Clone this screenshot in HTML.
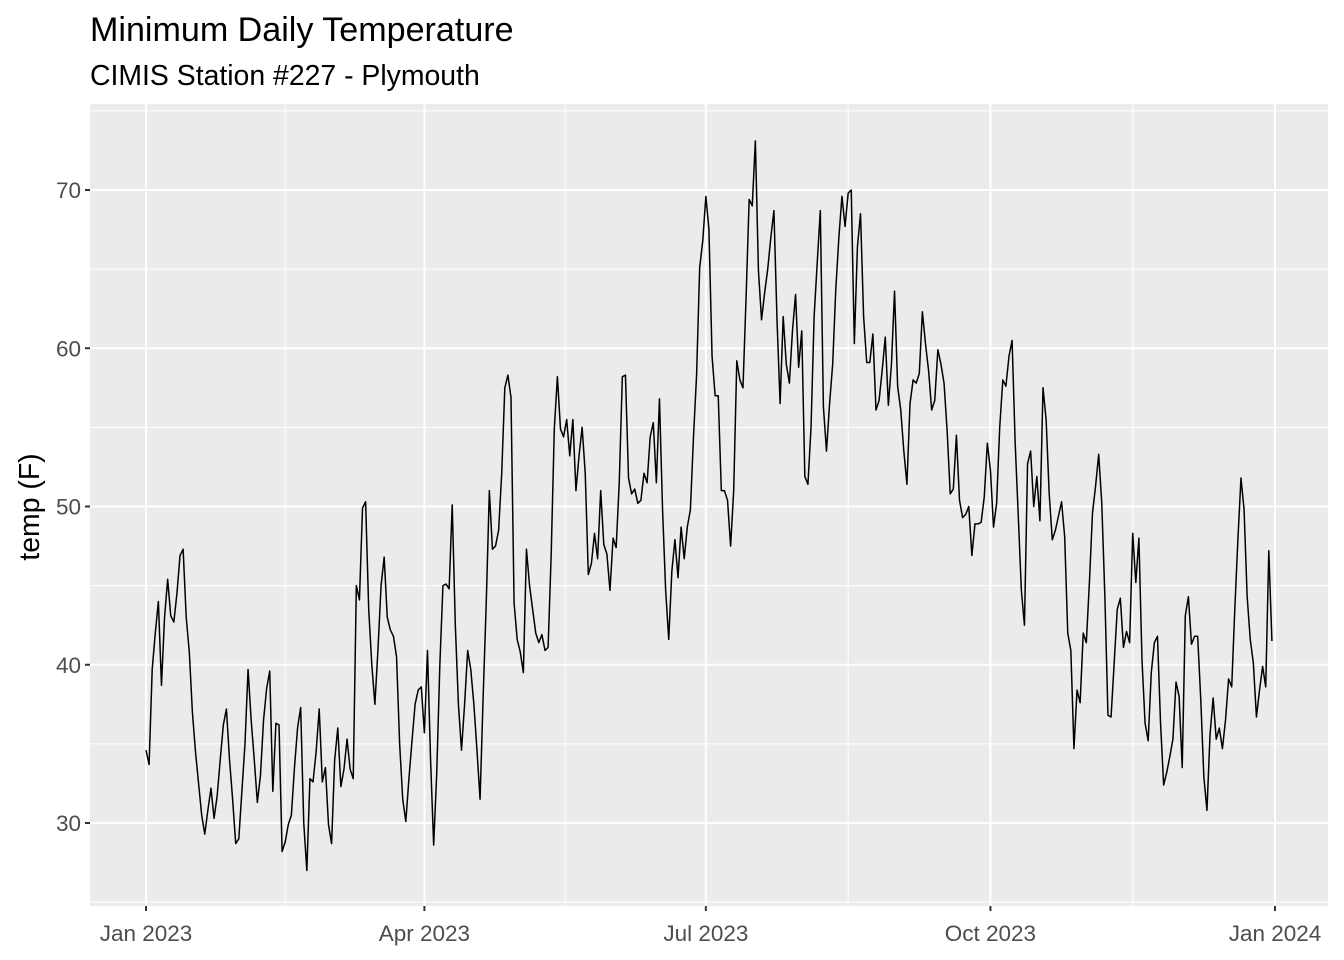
<!DOCTYPE html>
<html>
<head>
<meta charset="utf-8">
<style>
  html, body { margin: 0; padding: 0; background: #ffffff; }
  svg { display: block; font-family: "Liberation Sans", Arial, sans-serif; }
</style>
</head>
<body>
<svg id="chart" width="1344" height="960" viewBox="0 0 1344 960" xmlns="http://www.w3.org/2000/svg">
  <rect x="0" y="0" width="1344" height="960" fill="#ffffff"></rect>
  <text x="90" y="41" font-size="34.1" fill="#000">Minimum Daily Temperature</text>
  <text x="90" y="85" font-size="28.4" fill="#000">CIMIS Station #227 - Plymouth</text>
  <rect x="90" y="104" width="1238" height="802" fill="#ebebeb"></rect>
  <g id="grid"></g>
  <g id="series"></g>
  <g id="axes"></g>
  <text transform="translate(39,507) rotate(-90)" text-anchor="middle" font-size="28.4" fill="#000">temp (F)</text>
</svg>
<script>
const startDate = "2023-01-01";
const yTickValues = [30, 40, 50, 60, 70];
const yTickLabels = ["30", "40", "50", "60", "70"];
const yMinorValues = [25, 35, 45, 55, 65, 75];
const xTickDays = [0, 90, 181, 273, 365];
const xTickLabels = ["Jan 2023", "Apr 2023", "Jul 2023", "Oct 2023", "Jan 2024"];
const xMinorDays = [45, 135.5, 227, 319];
const tempValues = [
34.6,33.7,39.7,42,44,38.7,43,45.4,43.1,42.7,
44.5,46.9,47.3,43,40.8,37,34.5,32.5,30.5,29.3,
30.8,32.2,30.3,31.7,34,36.2,37.2,34,31.5,28.7,
29,32,35,39.7,36.5,34,31.3,33,36.5,38.5,
39.6,32,36.3,36.2,28.2,28.8,29.9,30.5,33.5,36,
37.3,30,27,32.8,32.6,34.5,37.2,32.6,33.5,29.9,
28.7,34,36,32.3,33.4,35.3,33.4,32.8,45,44.1,
49.9,50.3,43.5,40,37.5,41,45,46.8,43,42.2,
41.8,40.5,35,31.5,30.1,32.8,35.2,37.5,38.4,38.6,
35.7,40.9,34,28.6,33.2,40,45,45.1,44.8,50.1,
42.5,37.5,34.6,37.5,40.9,39.7,37.5,34.6,31.5,38,
43.9,51,47.3,47.5,48.5,52.1,57.5,58.3,56.9,43.9,
41.6,40.8,39.5,47.3,45,43.5,42,41.4,41.9,40.9,
41.1,47,54.9,58.2,54.9,54.4,55.5,53.2,55.5,51,
53.2,55,52.1,45.7,46.4,48.3,46.7,51,47.6,47,
44.7,48,47.4,51.5,58.2,58.3,51.8,50.8,51.1,50.2,
50.4,52.1,51.5,54.4,55.3,51.5,56.8,49.8,44.7,41.6,
45.9,47.9,45.5,48.7,46.7,48.7,49.8,54.4,58.3,65.1,
66.8,69.6,67.5,59.5,57,57,51,51,50.4,47.5,
51,59.2,58,57.5,63.2,69.4,69,73.1,64.9,61.8,
63.5,65,67,68.7,61.8,56.5,62,59,57.8,61.1,
63.4,58.8,61.1,51.9,51.4,55,62,65.4,68.7,56.3,
53.5,56.5,59,63.7,67,69.6,67.7,69.8,70,60.3,
66.4,68.5,62,59.1,59.1,60.9,56.1,56.7,58.6,60.7,
56.4,59,63.6,57.6,56.1,53.5,51.4,56.5,58,57.8,
58.4,62.3,60.3,58.6,56.1,56.7,59.9,59,57.8,54.8,
50.8,51.1,54.5,50.4,49.3,49.5,50,46.9,48.9,48.9,
49,50.6,54,52.3,48.7,50.2,55,58,57.6,59.5,
60.5,54,49.4,44.7,42.5,52.7,53.5,50,51.9,49.1,
57.5,55.5,50.8,47.9,48.5,49.4,50.3,48.1,42,40.9,
34.7,38.4,37.6,42,41.4,45.2,49.6,51.3,53.3,50.2,
44.3,36.8,36.7,40.1,43.5,44.2,41.1,42.1,41.4,48.3,
45.2,48,40.3,36.3,35.2,39.5,41.4,41.8,36.3,32.4,
33.2,34.2,35.3,38.9,38,33.5,43.1,44.3,41.3,41.8,
41.8,37.8,32.9,30.8,35.6,37.9,35.3,36,34.7,36.5,
39.1,38.6,43.5,47.9,51.8,49.8,44.3,41.6,40.1,36.7,
38.4,39.9,38.6,47.2,41.5
];

const NS = "http://www.w3.org/2000/svg";
const panel = { left: 90, right: 1328, top: 104, bottom: 906 };
function xScale(day) { return 146 + day * (1275 - 146) / 365; }
function yScale(v) { return 823 - (v - 30) * (823 - 190) / 40; }
function mk(tag, attrs, parent) {
  const el = document.createElementNS(NS, tag);
  for (const k in attrs) el.setAttribute(k, attrs[k]);
  parent.appendChild(el);
  return el;
}
const grid = document.getElementById("grid");
const axes = document.getElementById("axes");
const series = document.getElementById("series");

yMinorValues.forEach(function (v) {
  const y = yScale(v);
  if (y < panel.top || y > panel.bottom) return;
  const l = mk("line", { x1: panel.left, x2: panel.right, y1: y, y2: y, stroke: "#ffffff", "stroke-width": 1 }, grid);
  
  
});
xMinorDays.forEach(function (d) {
  const x = xScale(d);
  const l = mk("line", { x1: x, x2: x, y1: panel.top, y2: panel.bottom, stroke: "#ffffff", "stroke-width": 1 }, grid);
  
  
});
yTickValues.forEach(function (v, i) {
  const y = yScale(v);
  const l = mk("line", { x1: panel.left, x2: panel.right, y1: y, y2: y, stroke: "#ffffff", "stroke-width": 2 }, grid);
  
  
  const t = mk("line", { x1: panel.left - 5, x2: panel.left, y1: y, y2: y, stroke: "#333333", "stroke-width": 2 }, axes);
  
  
  const tx = mk("text", { x: panel.left - 9, y: y + 8, "text-anchor": "end", "font-size": 22.5, fill: "#4d4d4d" }, axes);
  tx.textContent = yTickLabels[i];
  
  
});
xTickDays.forEach(function (d, i) {
  const x = xScale(d);
  const l = mk("line", { x1: x, x2: x, y1: panel.top, y2: panel.bottom, stroke: "#ffffff", "stroke-width": 2 }, grid);
  
  
  const t = mk("line", { x1: x, x2: x, y1: panel.bottom, y2: panel.bottom + 5, stroke: "#333333", "stroke-width": 2 }, axes);
  
  
  const tx = mk("text", { x: x, y: 941, "text-anchor": "middle", "font-size": 22.5, fill: "#4d4d4d" }, axes);
  tx.textContent = xTickLabels[i];
  
  
});

const pts = tempValues.map(function (v, d) { return xScale(d).toFixed(2) + "," + yScale(v).toFixed(2); });
const line = mk("polyline", { points: pts.join(" "), fill: "none", stroke: "#000000", "stroke-width": 1.5, "stroke-linejoin": "round" }, series);


</script>
</body>
</html>
